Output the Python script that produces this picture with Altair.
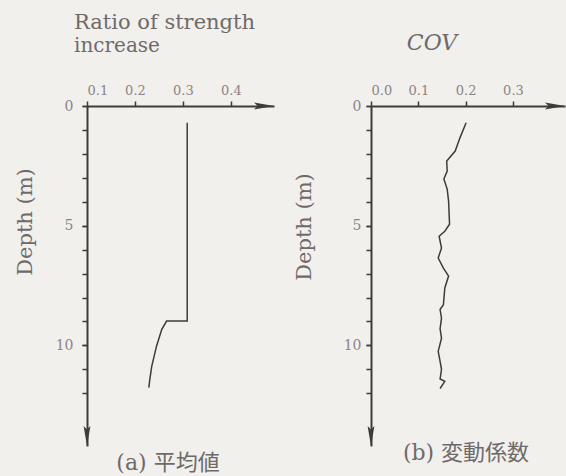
import altair as alt
import pandas as pd

# ---- data ----
# (a) mean ratio of strength increase vs depth
a_ratio = [0.309, 0.309, 0.266, 0.256, 0.245, 0.235, 0.231, 0.229]
a_depth = [0.7, 8.98, 8.98, 9.33, 10.03, 10.87, 11.42, 11.76]

# (b) coefficient of variation vs depth
b_cov = [0.201, 0.188, 0.178, 0.160, 0.161, 0.154, 0.161, 0.164, 0.166, 0.156,
         0.144, 0.149, 0.142, 0.153, 0.164, 0.156, 0.153, 0.146, 0.149, 0.146,
         0.149, 0.142, 0.146, 0.149, 0.146, 0.156, 0.146]
b_depth = [0.70, 1.33, 1.88, 2.30, 2.72, 3.05, 3.47, 3.97, 4.94, 5.23,
           5.44, 5.93, 6.35, 6.77, 7.10, 7.60, 8.30, 8.50, 8.86, 9.30,
           9.70, 10.25, 10.67, 11.00, 11.40, 11.50, 11.80]

a_ticks = [0.1, 0.2, 0.3, 0.4]
b_ticks = [0.0, 0.1, 0.2, 0.3]
depth_minor = list(range(0, 13))
depth_major = [0, 5, 10]
a_xdomain = [0.1, 0.49]
b_xdomain = [0.0, 0.41]
depth_domain = [0, 14.2]

a_title = ["Ratio of strength", "increase"]
b_title = "COV"
depth_title = "Depth (m)"
a_caption = "(a)  平均値"
b_caption = "(b)  変動係数"

BG = "#f2f0ed"
LINE = "#3f3b3b"
TEXT = "#6f6a6a"
LABEL = "#8a8484"
SERIF = "DejaVu Serif"
CJK = "DejaVu Serif, Noto Sans CJK JP"

arrow_right = "M0,0 L-1,-0.17 L-0.82,0 L-1,0.17 Z"
arrow_down = "M0,0 L-0.17,-1 L0,-0.82 L0.17,-1 Z"


def panel(xs, ys, xdomain, xticks, width, title_layers, ylabel_pad):
    df = pd.DataFrame({"x": xs, "d": ys, "i": list(range(len(xs)))})
    xscale = alt.Scale(domain=xdomain, nice=False, zero=False)
    yscale = alt.Scale(domain=depth_domain, reverse=True, nice=False, zero=False)
    xaxis = alt.Axis(orient="top", values=xticks, format=".1f", title=None,
                     grid=False, domainColor=LINE, domainWidth=2,
                     tickColor=LINE, tickWidth=1.5, tickSize=5, labelPadding=4,
                     labelFont=SERIF, labelFontSize=13, labelColor=LABEL,
                     labelOverlap=False)
    yaxis_major = alt.Axis(orient="left", values=depth_major, title=None,
                           grid=False, labelOverlap=False, domain=False,
                           tickColor=LINE, tickWidth=1.5, tickSize=5,
                           labelPadding=ylabel_pad, labelFont=SERIF,
                           labelFontSize=14, labelColor=LABEL)
    yaxis_minor = alt.Axis(orient="left", values=depth_minor, title=None,
                           grid=False, labels=False, domainColor=LINE,
                           domainWidth=2, tickColor=LINE, tickWidth=1.5,
                           tickSize=5)
    line = alt.Chart(df).mark_line(color=LINE, strokeWidth=1.5).encode(
        x=alt.X("x:Q", scale=xscale, axis=xaxis),
        y=alt.Y("d:Q", scale=yscale, axis=yaxis_major),
        order="i:O",
    )
    ends = pd.DataFrame({"x": [xdomain[1]], "d": [0.0]})
    endy = pd.DataFrame({"x": [xdomain[0]], "d": [depth_domain[1]]})
    arr1 = alt.Chart(ends).mark_point(shape=arrow_right, size=1600, filled=True,
                                      color=LINE, opacity=1).encode(
        x=alt.X("x:Q", scale=xscale), y=alt.Y("d:Q", scale=yscale, axis=yaxis_minor))
    arr2 = alt.Chart(endy).mark_point(shape=arrow_down, size=1600, filled=True,
                                      color=LINE, opacity=1).encode(
        x=alt.X("x:Q", scale=xscale), y=alt.Y("d:Q", scale=yscale, axis=None))
    return alt.layer(line, arr1, arr2, *title_layers).resolve_axis(
        y="independent").properties(width=width, height=340)


def label(text, x, y, size, font=SERIF, angle=0, align="left",
          baseline="alphabetic", style="normal", color=TEXT):
    return alt.Chart(pd.DataFrame({"t": [text]})).mark_text(
        font=font, fontSize=size, angle=angle, align=align, baseline=baseline,
        fontStyle=style, color=color).encode(
        text="t:N", x=alt.value(x), y=alt.value(y))


left = panel(a_ratio, a_depth, a_xdomain, a_ticks, 187, [
    label(a_title[0], -13, -77, 21),
    label(a_title[1], -13, -54, 20),
    label(depth_title, -61, 116, 21, angle=270, align="center", baseline="middle"),
    label(a_caption, 81, 357, 22, font=CJK, align="center", baseline="middle"),
], 9)

right = panel(b_cov, b_depth, b_xdomain, b_ticks, 194, [
    label(b_title, 61, -56, 22, align="center", style="italic"),
    label(depth_title, -66, 121, 21, angle=270, align="center", baseline="middle"),
    label(b_caption, 95, 347, 22, font=CJK, align="center", baseline="middle"),
], 5)

chart = alt.hconcat(left, right, spacing=97, bounds="flush").properties(
    autosize=alt.AutoSizeParams(type="none"),
    padding={"left": 87, "top": 106, "right": 479, "bottom": 370},
    background=BG,
).configure_view(stroke=None)

chart.save("out.html", embed_options={"renderer": "svg", "actions": False})
